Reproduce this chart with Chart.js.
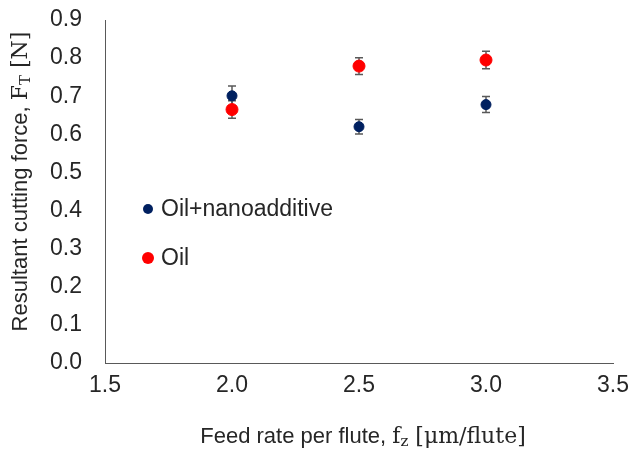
<!DOCTYPE html>
<html>
<head>
<meta charset="utf-8">
<script src="https://cdn.jsdelivr.net/npm/chart.js@4.4.1/dist/chart.umd.min.js"></script>
<style>
  html, body { margin: 0; padding: 0; background: #fff; }
  #wrap { width: 633px; height: 451px; }
</style>
</head>
<body>
<div id="wrap"><canvas id="myChart"></canvas></div>
<script>
// values
const feedRate = [2.0, 2.5, 3.0];
const nanoForce = [0.701, 0.620, 0.678];
const nanoError = [0.026, 0.019, 0.021];
const oilForce = [0.665, 0.779, 0.795];
const oilError = [0.023, 0.022, 0.023];
const seriesNames = ['Oil+nanoadditive', 'Oil'];
const seriesColors = ['#002060', '#ff0000'];
const xTicks = [1.5, 2.0, 2.5, 3.0, 3.5];
const yTicks = [0.0, 0.1, 0.2, 0.3, 0.4, 0.5, 0.6, 0.7, 0.8, 0.9];

const SANS = '"Liberation Sans", Arial, sans-serif';
const SERIF = '"DejaVu Serif", "Liberation Serif", serif';
const TEXT = '#262626';

Chart.defaults.font.family = SANS;
Chart.defaults.color = TEXT;

function toPoints(xs, ys) {
  let pts = [];
  for (let i = 0; i < xs.length; i++) {
    pts.push({x: xs[i], y: ys[i]});
  }
  return pts;
}

const errors = [nanoError, oilError];

// draws text pieces one after another, some of them as subscripts
function drawPieces(ctx, pieces, cx, cy) {
  let total = 0;
  pieces.forEach(p => {
    ctx.font = p.font;
    p.w = ctx.measureText(p.text).width;
    total += p.w;
  });
  let x = cx - total / 2;
  ctx.textBaseline = 'middle';
  ctx.textAlign = 'left';
  pieces.forEach(p => {
    ctx.font = p.font;
    ctx.fillText(p.text, x, cy + (p.dy || 0));
    x += p.w;
  });
}

const errorBars = {
  id: 'errorBars',
  beforeDatasetsDraw(chart) {
    const ctx = chart.ctx;
    const yScale = chart.scales.y;
    ctx.save();
    ctx.strokeStyle = '#595959';
    ctx.lineWidth = 1.5;
    chart.data.datasets.forEach((ds, i) => {
      const meta = chart.getDatasetMeta(i);
      meta.data.forEach((pt, j) => {
        const v = ds.data[j].y;
        const e = errors[i][j];
        const top = yScale.getPixelForValue(v + e);
        const bot = yScale.getPixelForValue(v - e);
        ctx.beginPath();
        ctx.moveTo(pt.x, top); ctx.lineTo(pt.x, bot);
        ctx.moveTo(pt.x - 4, top); ctx.lineTo(pt.x + 4, top);
        ctx.moveTo(pt.x - 4, bot); ctx.lineTo(pt.x + 4, bot);
        ctx.stroke();
      });
    });
    ctx.restore();
  }
};

const insideLegend = {
  id: 'insideLegend',
  afterDraw(chart) {
    const ctx = chart.ctx;
    const area = chart.chartArea;
    ctx.save();
    chart.data.datasets.forEach((ds, i) => {
      const y = area.top + 189 + i * 49;
      const x = area.left + 43;
      ctx.fillStyle = ds.backgroundColor;
      ctx.beginPath();
      ctx.arc(x, y, ds.pointRadius, 0, Math.PI * 2);
      ctx.fill();
      ctx.fillStyle = TEXT;
      ctx.font = '23px ' + SANS;
      ctx.textBaseline = 'middle';
      ctx.textAlign = 'left';
      ctx.fillText(ds.label, x + 13, y + 1);
    });
    ctx.restore();
  }
};

const axisTitles = {
  id: 'axisTitles',
  afterDraw(chart) {
    const ctx = chart.ctx;
    const area = chart.chartArea;
    ctx.save();
    ctx.fillStyle = TEXT;
    drawPieces(ctx, [
      {text: 'Feed rate per flute, ', font: '22px ' + SANS},
      {text: 'f', font: '22px ' + SERIF},
      {text: 'z', font: '15px ' + SERIF, dy: 5},
      {text: ' [\u03bcm/flute]', font: '22px ' + SERIF}
    ], (area.left + area.right) / 2 + 4, 437);
    ctx.translate(21, (area.top + area.bottom) / 2 - 10);
    ctx.rotate(-Math.PI / 2);
    drawPieces(ctx, [
      {text: 'Resultant cutting force, ', font: '22px ' + SANS},
      {text: 'F', font: '22px ' + SERIF},
      {text: 'T', font: '15px ' + SERIF, dy: 5},
      {text: ' [N]', font: '22px ' + SERIF}
    ], 0, 0);
    ctx.restore();
  }
};

const data = {
  datasets: [
    {
      label: seriesNames[0],
      data: toPoints(feedRate, nanoForce),
      backgroundColor: seriesColors[0],
      borderColor: seriesColors[0],
      pointRadius: 5,
      showLine: false
    },
    {
      label: seriesNames[1],
      data: toPoints(feedRate, oilForce),
      backgroundColor: seriesColors[1],
      borderColor: seriesColors[1],
      pointRadius: 6,
      showLine: false
    }
  ]
};

const config = {
  type: 'scatter',
  data: data,
  options: {
    responsive: true,
    maintainAspectRatio: false,
    animation: false,
    layout: { padding: { top: 20, right: 20, left: 0, bottom: 0 } },
    plugins: {
      legend: { display: false },
      tooltip: { enabled: false }
    },
    scales: {
      x: {
        type: 'linear',
        min: 1.5,
        max: 3.5,
        afterBuildTicks: s => { s.ticks = xTicks.map(v => ({value: v})); },
        afterFit: s => { s.height = 88; s.paddingLeft = 0; s.paddingRight = 0; },
        grid: { display: false, drawTicks: false },
        border: { display: true, color: '#595959', width: 1 },
        ticks: {
          padding: 9,
          color: TEXT,
          font: { size: 23 },
          callback: v => v.toFixed(1)
        }
      },
      y: {
        type: 'linear',
        min: 0,
        max: 0.9,
        afterBuildTicks: s => { s.ticks = yTicks.map(v => ({value: v})); },
        afterFit: s => { s.width = 105; s.paddingTop = 0; s.paddingBottom = 0; },
        grid: { display: false, drawTicks: false },
        border: { display: true, color: '#595959', width: 1 },
        ticks: {
          padding: 23,
          color: TEXT,
          font: { size: 23 },
          callback: v => v.toFixed(1)
        }
      }
    }
  },
  plugins: [errorBars, insideLegend, axisTitles]
};

const myChart = new Chart(document.getElementById('myChart'), config);
</script>
</body>
</html>
